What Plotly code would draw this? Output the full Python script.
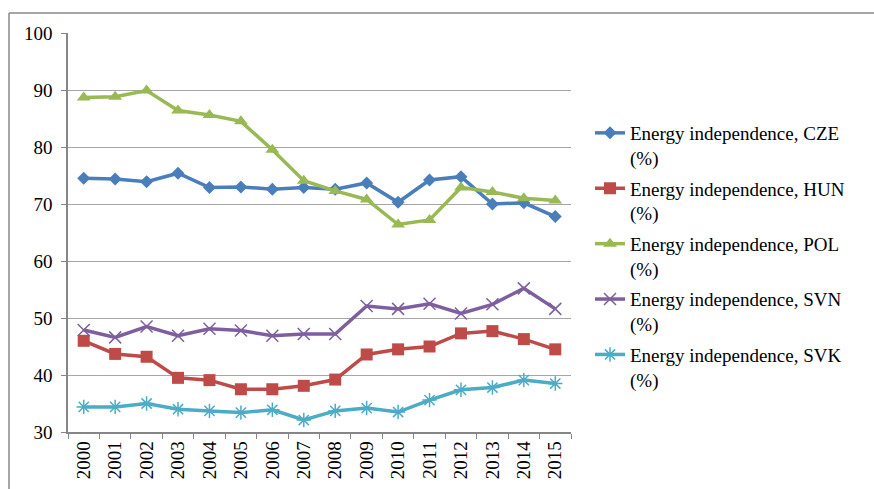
import plotly.graph_objects as go

years = [str(y) for y in range(2000, 2016)]
cze = [74.5, 74.4, 73.9, 75.4, 72.9, 73.0, 72.6, 72.9, 72.6, 73.7, 70.3, 74.2, 74.8, 70.0, 70.2, 67.8]
hun = [46.0, 43.7, 43.2, 39.5, 39.1, 37.5, 37.5, 38.1, 39.2, 43.6, 44.5, 45.0, 47.3, 47.7, 46.3, 44.5]
pol = [88.7, 88.8, 89.9, 86.4, 85.6, 84.5, 79.5, 74.1, 72.3, 70.8, 66.4, 67.2, 72.9, 72.1, 71.0, 70.6]
svn = [47.9, 46.6, 48.5, 46.9, 48.1, 47.8, 46.9, 47.2, 47.2, 52.1, 51.6, 52.5, 50.8, 52.4, 55.2, 51.6]
svk = [34.4, 34.4, 35.0, 34.0, 33.7, 33.4, 33.9, 32.1, 33.7, 34.2, 33.5, 35.6, 37.4, 37.8, 39.1, 38.5]

names = [
    "Energy independence, CZE<br>(%)",
    "Energy independence, HUN<br>(%)",
    "Energy independence, POL<br>(%)",
    "Energy independence, SVN<br>(%)",
    "Energy independence, SVK<br>(%)",
]
colors = ["#4A7EBB", "#BE4B48", "#98B954", "#7D5FA0", "#4BACC6"]
symbols = ["diamond", "square", "triangle-up", "x-thin-open", "asterisk-open"]
sizes = [10, 12, 12, 12, 12]
series = [cze, hun, pol, svn, svk]

FONT = "Times New Roman, Liberation Serif, Tinos, Times, DejaVu Serif, serif"

fig = go.Figure()
for name, vals, c, s, sz in zip(names, series, colors, symbols, sizes):
    open_sym = s.endswith("open")
    fig.add_trace(go.Scatter(
        x=years, y=vals, name=name, mode="lines+markers", legendgroup=name,
        line=dict(color=c, width=3.5),
        marker=dict(symbol=s, size=sz, color=c,
                    line=dict(color=c, width=1.5 if open_sym else 0)),
    ))

L, R, T, B = 68, 303, 33, 57
W, H = 874, 489
pw, ph = W - L - R, H - T - B
def px(x):
    return (x - L) / pw
def py(y):
    return 1 - (y - T) / ph

fig.update_layout(
    width=W, height=H,
    margin=dict(l=L, r=R, t=T, b=B, pad=0, autoexpand=False),
    paper_bgcolor="white", plot_bgcolor="white",
    font=dict(family=FONT, size=19, color="black"),
    showlegend=True,
    legend=dict(
        x=px(590), y=py(114), xanchor="left", yanchor="top",
        valign="top", tracegroupgap=3, itemwidth=30,
        font=dict(size=19, family=FONT),
        bgcolor="rgba(0,0,0,0)",
    ),
    xaxis=dict(
        type="category", tickangle=-90, showgrid=False, automargin=False,
        showline=True, linecolor="#868686", linewidth=1.5,
        ticks="outside", tickson="boundaries", ticklen=5, tickcolor="#868686",
        tickfont=dict(size=19, family=FONT), range=[-0.5, 15.5],
    ),
    yaxis=dict(
        range=[30, 100], tickvals=[30, 40, 50, 60, 70, 80, 90, 100], automargin=False,
        showgrid=True, gridcolor="#A6A6A6", gridwidth=1,
        showline=True, linecolor="#868686", linewidth=1.5,
        ticks="outside", ticklen=5, tickcolor="#868686",
        tickfont=dict(size=19, family=FONT), zeroline=False, ticklabelstandoff=5,
    ),
    shapes=[
        dict(type="line", xref="paper", yref="paper", x0=px(9), x1=px(874), y0=py(13), y1=py(13),
             line=dict(color="#888888", width=1.5)),
        dict(type="line", xref="paper", yref="paper", x0=px(9), x1=px(9), y0=py(13), y1=py(489),
             line=dict(color="#888888", width=1.5)),
    ],
)

fig.write_html("out.html", config={"displayModeBar": False},
               post_script="document.body.style.margin='0';document.body.style.overflow='hidden';")
